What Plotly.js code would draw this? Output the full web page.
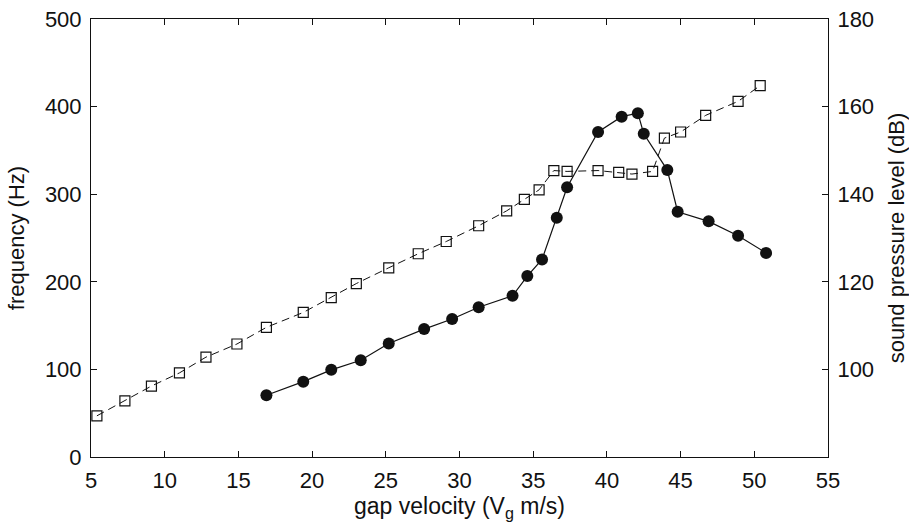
<!DOCTYPE html>
<html>
<head>
<meta charset="utf-8">
<script src="https://cdn.plot.ly/plotly-3.0.1.min.js"></script>
<style>html,body{margin:0;padding:0;background:#fff}#chart{width:909px;height:529px}</style>
</head>
<body>
<div id="chart"></div>
<script>
// Frequency series (open squares, left axis)
const velocityFreq = [5.4, 7.3, 9.1, 11.0, 12.8, 14.9, 16.9, 19.4, 21.3, 23.0, 25.2, 27.2, 29.1, 31.3, 33.2, 34.4, 35.4, 36.4, 37.3, 39.4, 40.8, 41.7, 43.1, 43.9, 45.0, 46.7, 48.9, 50.4];
const frequencyHz = [47, 64, 81, 96, 114, 129, 148, 165, 182, 198, 216, 232, 246, 264, 281, 294, 305, 327, 326, 327, 325, 323, 326, 364, 371, 390, 406, 424];

// Sound pressure level series (filled circles, right axis)
const velocitySpl = [16.9, 19.4, 21.3, 23.3, 25.2, 27.6, 29.5, 31.3, 33.6, 34.6, 35.6, 36.6, 37.3, 39.4, 41.0, 42.1, 42.5, 44.1, 44.8, 46.9, 48.9, 50.8];
const splDb = [94.1, 97.2, 99.9, 102.1, 105.9, 109.2, 111.5, 114.2, 116.8, 121.3, 125.1, 134.6, 141.6, 154.2, 157.7, 158.5, 153.8, 145.5, 136.0, 133.8, 130.5, 126.6];

// Tick labels
const xTicks = [5, 10, 15, 20, 25, 30, 35, 40, 45, 50, 55];
const yLeftTicks = [0, 100, 200, 300, 400, 500];
const yRightTicks = [100, 120, 140, 160, 180];

const FONT = 'Liberation Sans, Arial, Helvetica, sans-serif';
const INK = '#111';

const traces = [
  {
    x: velocityFreq, y: frequencyHz, type: 'scatter', mode: 'lines+markers',
    line: {color: INK, width: 1, dash: '8px,5px'},
    marker: {symbol: 'square-open', size: 10, color: INK, line: {width: 1.2, color: INK}},
    xaxis: 'x', yaxis: 'y', showlegend: false
  },
  {
    x: velocitySpl, y: splDb, type: 'scatter', mode: 'lines+markers',
    line: {color: INK, width: 1.2},
    marker: {symbol: 'circle', size: 12, color: INK},
    xaxis: 'x', yaxis: 'y2', showlegend: false
  }
];

const layout = {
  width: 909, height: 529,
  margin: {l: 91, r: 81, t: 19, b: 72},
  paper_bgcolor: '#fff', plot_bgcolor: '#fff',
  font: {family: FONT, size: 22, color: INK},
  showlegend: false,
  xaxis: {
    range: [5, 55], tickvals: xTicks, ticktext: xTicks.map(String),
    showline: true, linecolor: INK, linewidth: 1, mirror: 'ticks',
    ticks: 'inside', ticklen: 6, tickcolor: INK, tickwidth: 1,
    showgrid: false, zeroline: false, ticklabelstandoff: 4,
    title: {text: 'gap velocity (V<sub>g</sub> m/s)', font: {size: 23, family: FONT}, standoff: 5}
  },
  yaxis: {
    range: [0, 500], tickvals: yLeftTicks, ticktext: yLeftTicks.map(String),
    showline: true, linecolor: INK, linewidth: 1,
    ticks: 'inside', ticklen: 6, tickcolor: INK, tickwidth: 1,
    showgrid: false, zeroline: false, ticklabelstandoff: 4,
    title: {text: 'frequency (Hz)', font: {size: 22, family: FONT}, standoff: 14}
  },
  yaxis2: {
    range: [80, 180], tickvals: yRightTicks, ticktext: yRightTicks.map(String),
    overlaying: 'y', side: 'right',
    showline: true, linecolor: INK, linewidth: 1,
    ticks: 'inside', ticklen: 6, tickcolor: INK, tickwidth: 1,
    showgrid: false, zeroline: false, ticklabelstandoff: 4,
    title: {text: 'sound pressure level (dB)', font: {size: 22, family: FONT}, standoff: 15}
  }
};

Plotly.newPlot('chart', traces, layout, {staticPlot: true, displayModeBar: false});
</script>
</body>
</html>
